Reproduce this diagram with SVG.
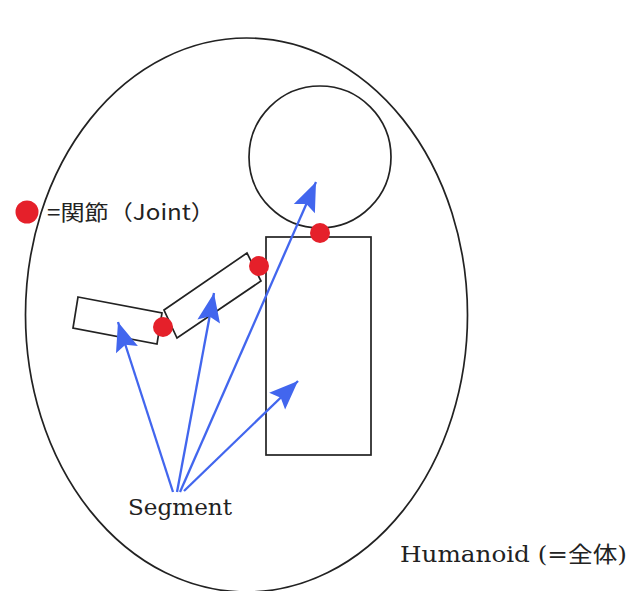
<svg xmlns="http://www.w3.org/2000/svg" width="629" height="591" viewBox="0 0 629 591">
<style>
.ol{fill:none;stroke:#222;stroke-width:1.7}
.part{fill:#fff;stroke:#222;stroke-width:1.7}
.joint{fill:#e5202a}
.arr{stroke:#4266ee;stroke-width:2.3;fill:none}
.lbl{font-family:"DejaVu Serif","Noto Sans CJK JP",serif;fill:#222}
.cjk{font-family:"Noto Sans CJK JP",sans-serif;fill:#222}
</style>
<defs>
<marker id="ah" viewBox="-30 -13 32 26" markerWidth="32" markerHeight="26" refX="0" refY="0" orient="auto" markerUnits="userSpaceOnUse">
<path d="M0,0 L-29,-11.5 L-24,0 L-29,11.5 Z" fill="#4266ee"/>
</marker>
</defs>
<rect width="629" height="591" fill="#fff"/>
<g id="humanoid">
<ellipse class="ol" cx="246.5" cy="315" rx="221" ry="277"/>
<text class="lbl" x="400" y="562" font-size="22" textLength="227" lengthAdjust="spacingAndGlyphs">Humanoid (=全体)</text>
</g>
<g id="head"><circle class="ol" cx="320" cy="157" r="71"/></g>
<g id="body"><rect class="part" x="266" y="237" width="105" height="218"/></g>
<g id="upper-arm"><polygon class="part" points="164,310 247,253 261,281 177,338"/></g>
<g id="lower-arm"><polygon class="part" points="78,297 162,313 157,344 73,328"/></g>
<g id="joints">
<circle class="joint" cx="320" cy="233" r="10"/>
<circle class="joint" cx="259" cy="266" r="10"/>
<circle class="joint" cx="163" cy="327" r="10"/>
</g>
<g id="legend">
<circle class="joint" cx="27" cy="212" r="11.5"/>
<text class="cjk" x="47" y="220" font-size="21" textLength="168" lengthAdjust="spacingAndGlyphs">=関節（Joint）</text>
</g>
<g id="connectors">
<line class="arr" x1="173" y1="492" x2="118" y2="322" marker-end="url(#ah)"/>
<line class="arr" x1="177" y1="492" x2="214" y2="293" marker-end="url(#ah)"/>
<line class="arr" x1="180" y1="492" x2="316" y2="182" marker-end="url(#ah)"/>
<line class="arr" x1="184" y1="491" x2="298" y2="381" marker-end="url(#ah)"/>
</g>
<g id="segment-label">
<text class="lbl" x="128" y="515" font-size="22" textLength="104" lengthAdjust="spacingAndGlyphs">Segment</text>
</g>
</svg>
